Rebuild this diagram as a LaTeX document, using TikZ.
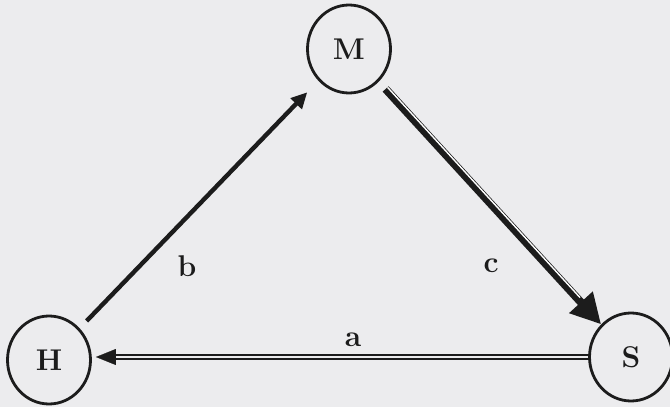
\documentclass[tikz,border=0pt]{standalone}
\usetikzlibrary{shapes.geometric, arrows.meta, positioning, calc}
\definecolor{bggray}{RGB}{236,236,238}
\definecolor{ink}{RGB}{28,28,28}

\begin{document}
\begin{tikzpicture}[x=0.5pt, y=-0.5pt,
  state/.style={draw=ink, ellipse, line width=1.4pt, minimum width=41.5pt, minimum height=44pt,
    inner sep=0pt, font=\fontsize{15}{18}\selectfont\bfseries, text=ink},
  lbl/.style={font=\fontsize{15}{18}\selectfont\bfseries, text=ink, inner sep=0pt}]
  \fill[bggray] (0,0) rectangle (670,407);
  \useasboundingbox (0,0) rectangle (670,407);

  % states
  \node[state] (M) at (349,49) {M};
  \node[state] (H) at (49,360) {H};
  \node[state] (S) at (631,357) {S};

  % b: H to M
  \draw[ink, line width=2.2pt, -{Triangle[length=8pt,width=7.5pt]}, shorten <=5pt, shorten >=8pt] (H) -- (M);
  % c: M to S, heavy with a white stripe
  \draw[ink, line width=4pt, -{Triangle[length=15pt,width=15pt]}, shorten <=5pt] (M) -- (S);
  \draw[white, line width=0.7pt, shorten <=5pt, shorten >=17pt,
    transform canvas={shift={(0.95pt,0.85pt)}}] (M) -- (S);
  % a: S to H, double line
  \coordinate (aend) at (S.west -| H.east);
  \draw[ink, double=bggray, double distance=1pt, line width=1pt, shorten >=10pt] (S.west) -- (aend);
  \draw[ink, line width=0.1pt, -{Triangle[length=10pt,width=8pt]}, shorten >=2pt] ($(aend)+(20,0)$) -- (aend);

  % labels
  \node[lbl] (la) at (353,340) {a};
  \node[lbl] (lb) at (187,266) {b};
  \node[lbl] (lc) at (491,266) {c};
\end{tikzpicture}
\end{document}
